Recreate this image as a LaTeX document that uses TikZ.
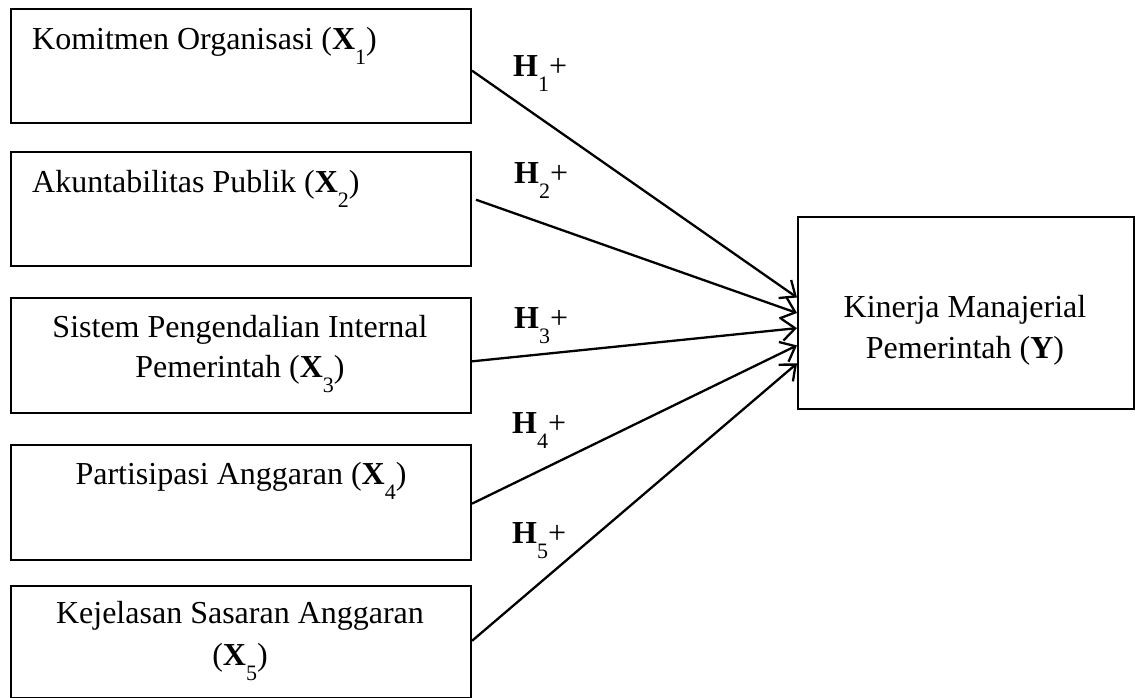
\documentclass[tikz,border=0pt]{standalone}
\usepackage{fontspec}
\setmainfont{Liberation Serif}
\usetikzlibrary{arrows.meta,calc}
\newcommand{\sbx}[1]{\raisebox{-15pt}{\fontsize{22}{22}\selectfont #1}}
\begin{document}
\begin{tikzpicture}[x=1pt,y=-1pt,
  box/.style={draw, line width=2pt, inner sep=0pt, anchor=north west},
  lbl/.style={font=\fontsize{32}{40}\selectfont, inner sep=0pt},
  conn/.style={line width=2.3pt, -{Straight Barb[length=13pt,width=22pt,line width=2.3pt]}}]
\useasboundingbox (0,0) rectangle (1141,698);

% boxes
\node[box, minimum width=460pt, minimum height=114pt] (b1) at (10,8) {};
\node[box, minimum width=460pt, minimum height=114pt] (b2) at (10,151) {};
\node[box, minimum width=460pt, minimum height=115pt] (b3) at (10,297) {};
\node[box, minimum width=460pt, minimum height=115pt] (b4) at (10,444) {};
\node[box, minimum width=460pt, minimum height=112pt] (b5) at (10,585) {};
\node[box, minimum width=336pt, minimum height=192pt] (y) at (797,216) {};

% texts
\node[lbl, anchor=base west] (t1) at (32,50) {Komitmen Organisasi (\textbf{X}\sbx{1})};
\node[lbl, anchor=base west] (t2) at (32,193) {Akuntabilitas Publik (\textbf{X}\sbx{2})};
\node[lbl, anchor=base] (t3a) at (240,337) {Sistem Pengendalian Internal};
\node[lbl, anchor=base] (t3b) at (240,377) {Pemerintah (\textbf{X}\sbx{3})};
\node[lbl, anchor=base] (t4) at (241,484) {Partisipasi Anggaran (\textbf{X}\sbx{4})};
\node[lbl, anchor=base] (t5a) at (240,623) {Kejelasan Sasaran Anggaran};
\node[lbl, anchor=base] (t5b) at (240,665) {(\textbf{X}\sbx{5})};
\node[lbl, anchor=base] (ty1) at (965,317) {Kinerja Manajerial};
\node[lbl, anchor=base] (ty2) at (965,358) {Pemerintah (\textbf{Y})};

% hypothesis labels
\node[lbl, anchor=base west] (h1) at (513,77) {\textbf{H}\sbx{1}+};
\node[lbl, anchor=base west] (h2) at (514,184) {\textbf{H}\sbx{2}+};
\node[lbl, anchor=base west] (h3) at (514,328) {\textbf{H}\sbx{3}+};
\node[lbl, anchor=base west] (h4) at (512,433) {\textbf{H}\sbx{4}+};
\node[lbl, anchor=base west] (h5) at (512,543) {\textbf{H}\sbx{5}+};

% connectors
\draw[conn] ($(b1.north east)!0.54!(b1.south east)$) -- ($(y.north west)!0.42!(y.south west)$);
\draw[conn] ($(b2.north east)!0.42!(b2.south east)+(4,0)$) -- ($(y.north west)!0.50!(y.south west)$);
\draw[conn] ($(b3.north east)!0.55!(b3.south east)$) -- ($(y.north west)!0.578!(y.south west)$);
\draw[conn] ($(b4.north east)!0.51!(b4.south east)$) -- ($(y.north west)!0.667!(y.south west)$);
\draw[conn] ($(b5.north east)!0.49!(b5.south east)$) -- ($(y.north west)!0.76!(y.south west)$);
\end{tikzpicture}
\end{document}
